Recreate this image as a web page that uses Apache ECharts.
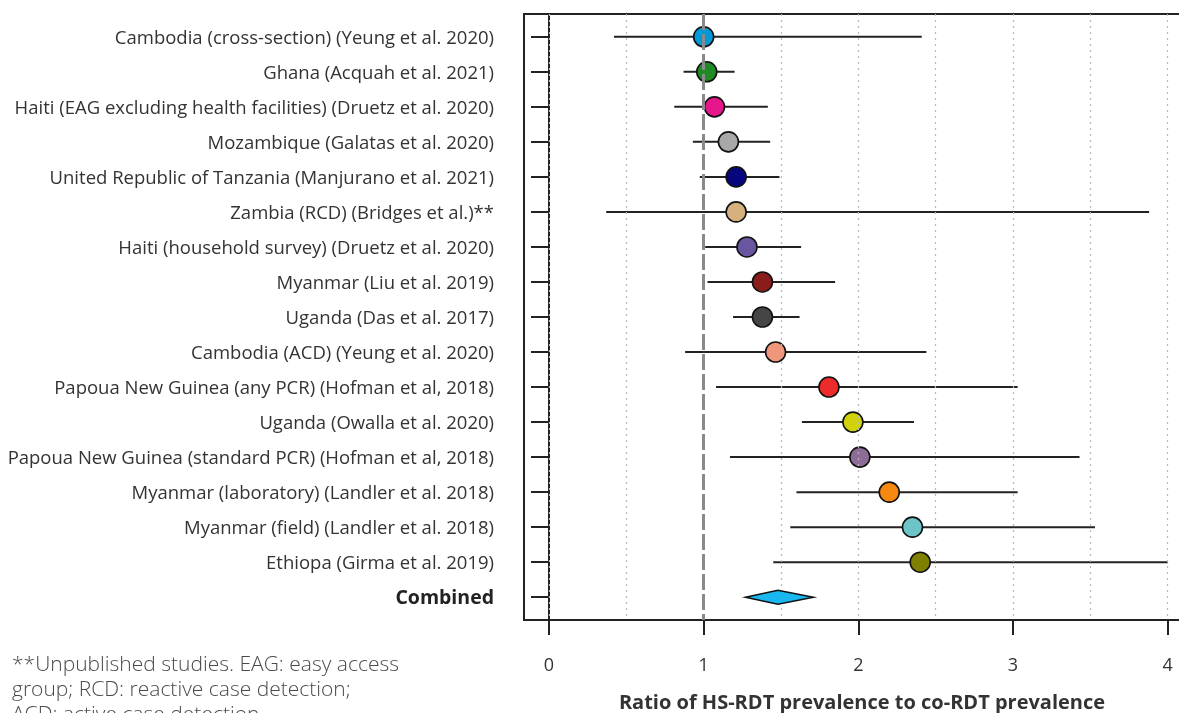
<!DOCTYPE html>
<html>
<head>
<meta charset="utf-8">
<script src="https://cdn.jsdelivr.net/npm/echarts@6/dist/echarts.min.js"></script>
<style>html,body{margin:0;padding:0;background:#fff}#c{width:1179px;height:713px}</style>
</head>
<body>
<div id="c"></div>
<script>
const studies = [
  'Cambodia (cross-section) (Yeung et al. 2020)',
  'Ghana (Acquah et al. 2021)',
  'Haiti (EAG excluding health facilities) (Druetz et al. 2020)',
  'Mozambique (Galatas et al. 2020)',
  'United Republic of Tanzania (Manjurano et al. 2021)',
  'Zambia (RCD) (Bridges et al.)**',
  'Haiti (household survey) (Druetz et al. 2020)',
  'Myanmar (Liu et al. 2019)',
  'Uganda (Das et al. 2017)',
  'Cambodia (ACD) (Yeung et al. 2020)',
  'Papoua New Guinea (any PCR) (Hofman et al, 2018)',
  'Uganda (Owalla et al. 2020)',
  'Papoua New Guinea (standard PCR) (Hofman et al, 2018)',
  'Myanmar (laboratory) (Landler et al. 2018)',
  'Myanmar (field) (Landler et al. 2018)',
  'Ethiopa (Girma et al. 2019)'
];
const estimates = [1.00, 1.02, 1.07, 1.16, 1.21, 1.21, 1.28, 1.38, 1.38, 1.465, 1.81, 1.965, 2.01, 2.20, 2.35, 2.40];
const lower     = [0.42, 0.87, 0.81, 0.93, 0.975, 0.37, 1.01, 1.025, 1.19, 0.88, 1.08, 1.635, 1.17, 1.60, 1.56, 1.45];
const upper     = [2.41, 1.20, 1.415, 1.43, 1.49, 3.88, 1.63, 1.85, 1.62, 2.44, 3.03, 2.36, 3.43, 3.03, 3.53, 4.00];
const colors = ['#009ad8', '#1f8a24', '#e8168c', '#a8a8a8', '#06067e', '#d7b07f', '#6a55a0', '#8b1c1c', '#454545', '#f0967a', '#ee2b2b', '#d2d20c', '#8d6c98', '#f7880f', '#6cc4c6', '#7f7f00'];
const combinedLabel = 'Combined';
const combined = {est: 1.48, lo: 1.27, hi: 1.71};
const xTicks = [0, 1, 2, 3, 4];
const gridValues = [0, 0.5, 1, 1.5, 2, 2.5, 3, 3.5, 4];
const refValue = 1;
const xTitle = 'Ratio of HS-RDT prevalence to co-RDT prevalence';
const footnote = '**Unpublished studies. EAG: easy access\ngroup; RCD: reactive case detection;\nACD: active case detection';

const rowLabels = studies.concat([combinedLabel]);
const rowPos = rowLabels.map((_, i) => i + 1);
const FONT = 'Open Sans';

const chart = echarts.init(document.getElementById('c'), null, {renderer: 'canvas'});
const option = {
  animation: false,
  grid: {left: 524, right: -66, top: 14, bottom: 93, show: true, borderColor: '#222', borderWidth: 2, containLabel: false, outerBoundsMode: 'none'},
  xAxis: {
    type: 'value', min: -0.1616, max: 4.5,
    axisLine: {show: true, lineStyle: {color: '#222', width: 2}},
    axisTick: {show: true, customValues: xTicks, length: 15, lineStyle: {color: '#222', width: 2}},
    axisLabel: {customValues: xTicks, margin: 37, color: '#333', fontSize: 18, fontFamily: FONT},
    splitLine: {show: false}
  },
  yAxis: {
    type: 'value', inverse: true, min: 0.35, max: 17.65,
    axisLine: {show: true, lineStyle: {color: '#222', width: 2}},
    axisTick: {show: true, customValues: rowPos, length: 18, lineStyle: {color: '#222', width: 2}},
    axisLabel: {
      customValues: rowPos, margin: 30, color: '#333', fontSize: 18.5, fontFamily: FONT,
      padding: [3, 0, 0, 0],
      formatter: v => {
        const i = Math.round(v) - 1;
        if (i === studies.length) return '{b|' + rowLabels[i] + '}';
        return rowLabels[i] || '';
      },
      rich: {b: {fontWeight: 'bold', fontSize: 19.5, fontFamily: FONT, color: '#222'}}
    },
    splitLine: {show: false}
  },
  series: [
    {
      type: 'line', data: [], z: 1, silent: true,
      markLine: {
        silent: true, symbol: 'none', label: {show: false},
        lineStyle: {color: '#b8b8b8', width: 1.2, type: [2, 4]},
        data: gridValues.filter(v => v !== refValue).map(v => ({xAxis: v}))
      }
    },
    {
      type: 'line', data: [], z: 2, silent: true,
      markLine: {
        silent: true, symbol: 'none', label: {show: false},
        lineStyle: {color: '#8a8a8a', width: 3, type: [16, 4]},
        data: [{xAxis: refValue}]
      }
    },
    {
      type: 'custom', z: 3, silent: true,
      data: studies.map((_, i) => [lower[i], upper[i], i + 1]),
      encode: {x: [0, 1], y: 2},
      renderItem: (params, api) => {
        const a = api.coord([api.value(0), api.value(2)]);
        const b = api.coord([api.value(1), api.value(2)]);
        return {type: 'line', shape: {x1: a[0], y1: a[1], x2: b[0], y2: b[1]}, style: {stroke: '#222', lineWidth: 2}};
      }
    },
    {
      type: 'scatter', z: 4, symbol: 'circle', symbolSize: 20,
      data: studies.map((_, i) => ({value: [estimates[i], i + 1], itemStyle: {color: colors[i]}})),
      itemStyle: {borderColor: '#111', borderWidth: 1.6, opacity: 1}
    },
    {
      type: 'custom', z: 5, silent: true,
      data: [[combined.lo, combined.est, combined.hi, studies.length + 1]],
      encode: {x: [0, 2], y: 3},
      renderItem: (params, api) => {
        const y = api.value(3), d = 0.2;
        const pts = [
          api.coord([api.value(0), y]),
          api.coord([api.value(1), y - d]),
          api.coord([api.value(2), y]),
          api.coord([api.value(1), y + d])
        ];
        return {type: 'polygon', shape: {points: pts}, style: {fill: '#18b7ef', stroke: '#111', lineWidth: 1.5}};
      }
    }
  ],
  graphic: [
    {type: 'text', left: 12, top: 653, style: {text: footnote, fontSize: 21, lineHeight: 25, fontFamily: FONT, fontWeight: 300, fill: '#4a4a4a'}},
    {type: 'text', x: 862, y: 703, style: {text: xTitle, fontSize: 20, fontWeight: 'bold', fontFamily: FONT, fill: '#333', align: 'center', verticalAlign: 'middle'}}
  ]
};
chart.setOption(option);
</script>
</body>
</html>
